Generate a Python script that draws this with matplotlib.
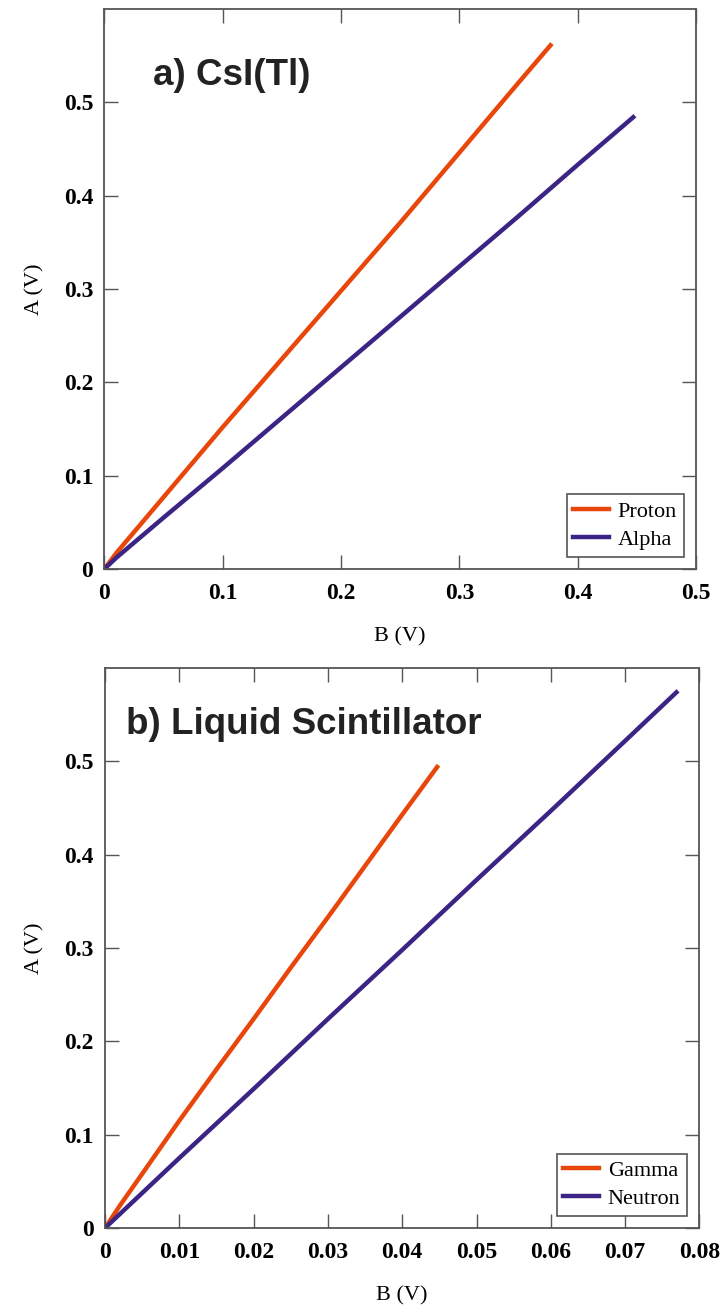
import matplotlib
matplotlib.use('Agg')
import matplotlib.pyplot as plt

# Panel a) CsI(Tl): A vs B for protons and alphas
proton_b = [0, 0.01, 0.05, 0.10, 0.15, 0.20, 0.25, 0.30, 0.35, 0.377]
proton_a = [0, 0.017, 0.077, 0.152, 0.225, 0.298, 0.371, 0.446, 0.521, 0.561]
alpha_b = [0, 0.01, 0.05, 0.10, 0.15, 0.20, 0.25, 0.30, 0.35, 0.40, 0.447]
alpha_a = [0, 0.012, 0.055, 0.108, 0.162, 0.216, 0.270, 0.324, 0.378, 0.433, 0.484]

# Panel b) liquid scintillator: gammas and neutrons
gamma_b = [0, 0.002, 0.005, 0.010, 0.015, 0.020, 0.025, 0.030, 0.035, 0.040, 0.0447]
gamma_a = [0, 0.024, 0.058, 0.115, 0.170, 0.224, 0.279, 0.333, 0.388, 0.443, 0.494]
neutron_b = [0, 0.01, 0.02, 0.03, 0.04, 0.05, 0.06, 0.07, 0.0769]
neutron_a = [0, 0.075, 0.149, 0.224, 0.298, 0.373, 0.447, 0.522, 0.574]

a_ticks = [0, 0.1, 0.2, 0.3, 0.4, 0.5]
a_ticklabels = ['0', '0.1', '0.2', '0.3', '0.4', '0.5']
b_ticks_top = [0, 0.1, 0.2, 0.3, 0.4, 0.5]
b_ticklabels_top = ['0', '0.1', '0.2', '0.3', '0.4', '0.5']
b_ticks_bot = [0, 0.01, 0.02, 0.03, 0.04, 0.05, 0.06, 0.07, 0.08]
b_ticklabels_bot = ['0', '0.01', '0.02', '0.03', '0.04', '0.05', '0.06', '0.07', '0.08']

ORANGE = '#E8460A'
PURPLE = '#3C2484'
SERIF = ['Liberation Serif', 'DejaVu Serif']
SANS = ['Liberation Sans', 'DejaVu Sans']

fig = plt.figure(figsize=(7.28, 13.13), dpi=100)
ax1 = fig.add_axes([0.1435, 0.5667, 0.8125, 0.4265])
ax2 = fig.add_axes([0.1442, 0.0647, 0.8166, 0.4265])


def style_axes(ax, xlim, xticks, xlabels, title, title_x, title_y):
    ax.set_xlim(*xlim)
    ax.set_ylim(0, 0.6)
    ax.set_xticks(xticks)
    ax.set_xticklabels(xlabels, family=SERIF, fontweight='bold', fontsize=17)
    ax.set_yticks(a_ticks)
    ax.set_yticklabels(a_ticklabels, family=SERIF, fontweight='bold', fontsize=17)
    ax.tick_params(direction='in', length=10, width=1, color='#555555',
                   top=True, right=True)
    ax.tick_params(axis='x', pad=10)
    ax.tick_params(axis='y', pad=8)
    for sp in ax.spines.values():
        sp.set_color('#555555')
        sp.set_linewidth(1.3)
    ax.set_xlabel('B (V)', family=SERIF, fontsize=16, labelpad=17)
    ax.set_ylabel('A (V)', family=SERIF, fontsize=16, labelpad=14)
    ax.text(title_x, title_y, title, transform=ax.transAxes, family=SANS,
            fontweight='bold', fontsize=26.5, color='#222222', va='center')
    leg = ax.legend(loc='lower right', prop={'family': SERIF, 'size': 16},
                    fancybox=False, edgecolor='#555555', handlelength=1.6,
                    handletextpad=0.4, labelspacing=0.35, borderpad=0.3,
                    borderaxespad=0.55, framealpha=1)
    leg.get_frame().set_linewidth(1.2)


ax1.plot(proton_b, proton_a, color=ORANGE, lw=3.2, label='Proton')
ax1.plot(alpha_b, alpha_a, color=PURPLE, lw=3.2, label='Alpha')
style_axes(ax1, (0, 0.5), b_ticks_top, b_ticklabels_top, 'a) CsI(Tl)', 0.082, 0.882)

ax2.plot(gamma_b, gamma_a, color=ORANGE, lw=3.2, label='Gamma')
ax2.plot(neutron_b, neutron_a, color=PURPLE, lw=3.2, label='Neutron')
style_axes(ax2, (0, 0.08), b_ticks_bot, b_ticklabels_bot, 'b) Liquid Scintillator', 0.035, 0.9)

fig.savefig('out.png', dpi=100)
